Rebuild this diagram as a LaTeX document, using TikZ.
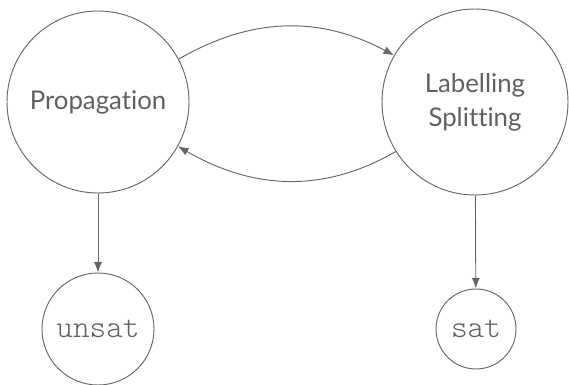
\documentclass[tikz,border=0pt]{standalone}
\usepackage{fontspec}
\setmainfont{Lato}[Ligatures=NoCommon]
\setmonofont{Latin Modern Mono Light}
\usetikzlibrary{arrows.meta}
\definecolor{StateGray}{HTML}{666666}
\definecolor{TextGray}{HTML}{606060}

\begin{document}
\begin{tikzpicture}[
	% Define styles and settings
	state/.style={circle, draw=StateGray, line width=0.8pt, text=TextGray, align=center},
	result/.style={state, font=\fontsize{27}{30}\selectfont\ttfamily},
	arrow/.style={-{Latex[length=9pt,width=7pt]}, draw=StateGray, line width=0.8pt}
	]
	% \draw[help lines] (0, 0) grid (17, 11);
	\useasboundingbox (0,0) rectangle (17.07,11.52);

	\draw (2.94,8.46) node[state,minimum size=5.46cm,font=\fontsize{22}{29}\selectfont] (Propagation) {Propagation};
	\draw (14.25,8.46) node[state,minimum size=5.58cm,font=\fontsize{22}{29}\selectfont] (Labelling) {Labelling\\Splitting};

	\draw (2.94,1.65) node[result,minimum size=3.36cm] (Unsat) {unsat};
	\draw (14.28,1.65) node[result,minimum size=2.4cm] (Sat) {sat};

	\draw[arrow] (Propagation.28) to[out=30, in=152] (Labelling.150);
	\draw[arrow] (Labelling.212) to[out=210, in=-30] (Propagation.331);

	\draw[arrow] (Propagation) -- (Unsat);
	\draw[arrow] (Labelling) -- (Sat);

\end{tikzpicture}
\end{document}
